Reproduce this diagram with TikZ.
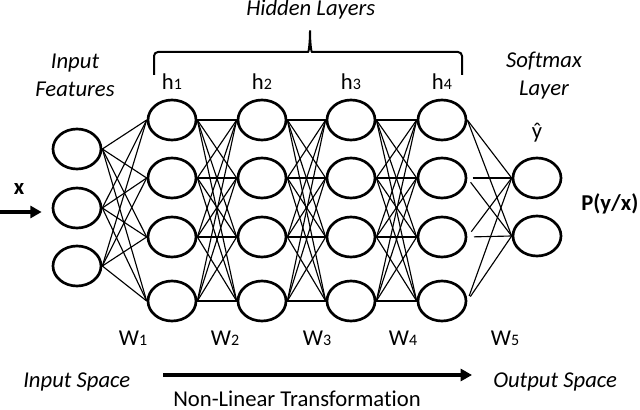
\documentclass[tikz,border=0pt]{standalone}
\usepackage{fontspec}
\setmainfont{Carlito}[Ligatures=NoCommon]
\usepackage{tikz}
\usetikzlibrary{positioning,arrows.meta,shapes.geometric}

\newcommand{\subnum}[2]{#1{\fontsize{12}{12}\selectfont#2}}

\begin{document}
\begin{tikzpicture}[
  x=0.75pt, y=-0.75pt,
  font=\fontsize{17}{21}\selectfont,
  neuron/.style={draw, ellipse, line width=2pt, minimum width=36pt,
    minimum height=30pt, inner sep=0pt},
  link/.style={line width=0.85pt},
  txt/.style={inner sep=0pt},
  caption/.style={txt, font=\fontsize{17}{21}\selectfont\itshape, align=center},
  flow/.style={-{Triangle[length=8.5pt, width=9pt]}, line width=3pt},
  ]
  \useasboundingbox (0,0) rectangle (640,410);

  % layers
  \foreach \row [count=\i] in {149,208,266}
    \node[neuron] (in\i) at (77,\row) {};
  \foreach \col [count=\lay] in {172,262,351,442} {
    \foreach \row [count=\i] in {120,178,237,301}
      \node[neuron] (h\lay-\i) at (\col,\row) {};
    \node[txt, above=6.75pt of h\lay-1] (hlab\lay) {\subnum{h}{\lay}};
  }
  \node[neuron] (out1) at (537,178) {};
  \node[neuron] (out2) at (537,236) {};
  \node[txt, above=11pt of out1] (yhat) {ŷ};

  % weights
  \foreach \i in {1,2,3}
    \foreach \j in {1,...,4}
      \draw[link] (in\i.east) -- (h1-\j.west);
  \foreach \lay/\nxt in {1/2,2/3,3/4}
    \foreach \i in {1,...,4}
      \foreach \j in {1,...,4}
        \draw[link] (h\lay-\i.east) -- (h\nxt-\j.west);
  \foreach \i/\gap in {1/0pt,2/4pt,3/5pt,4/4pt}
    \foreach \j in {1,2}
      \draw[link, shorten <=\gap] (h4-\i.east) -- (out\j.west);
  \foreach \col [count=\k] in {133,225,317,403,505}
    \node[txt, anchor=base] (w\k) at (\col,345) {\subnum{W}{\k}};

  % brace over the hidden layers
  \draw[line width=1.5pt, rounded corners=3pt] (154,75) -- (154,52) -- (304,52)
    .. controls (309,52) and (310,40) .. (310,28)
    .. controls (310,40) and (311,52) .. (316,52) -- (462,52) -- (462,75);

  % captions
  \node[caption, anchor=base west] (hidden) at (246,16) {Hidden Layers};
  \node[caption] (infeat) at (75,75) {Input\\Features};
  \node[caption] (softmax) at (544,75.5) {Softmax\\Layer};
  \node[txt, font=\fontsize{17}{21}\selectfont\bfseries, anchor=base] (xlab) at (19,195) {x};
  \node[txt, font=\fontsize{17}{21}\selectfont\bfseries, anchor=base west] (pyx) at (581,210) {P(y/x)};
  \node[caption, anchor=base west] (inspace) at (23,387) {Input Space};
  \node[caption, anchor=base west] (outspace) at (493,387) {Output Space};
  \node[txt, anchor=base west] (nonlin) at (173,406) {Non-Linear Transformation};

  % arrows
  \coordinate (xsrc) at (0,212);
  \draw[flow, shorten >=7.5pt] (xsrc) -- (xsrc -| in2.west);
  \coordinate (tstart) at (163,375);
  \coordinate (tend) at (472,375);
  \draw[flow] (tstart) -- (tend);
\end{tikzpicture}
\end{document}
